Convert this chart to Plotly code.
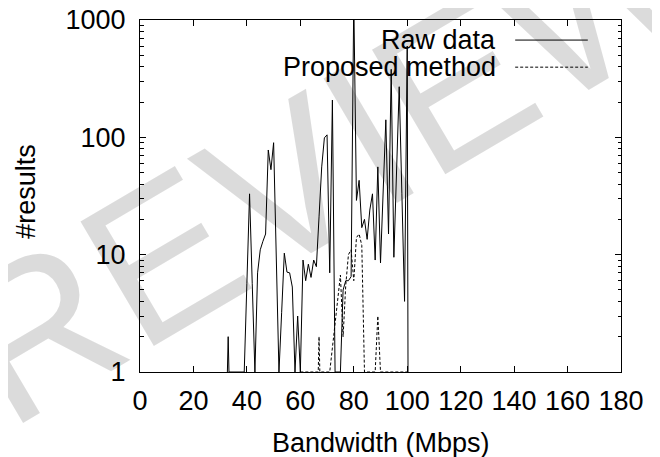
import plotly.graph_objects as go

# ---------------- data ----------------
raw_bw = [32.7, 33, 33.3, 39, 40, 41, 42, 43, 44, 45, 46, 47, 48, 49, 50, 51, 52, 53, 54,
          55, 56, 57, 58, 59, 60, 61, 62, 63, 64, 65, 66, 67, 68, 69, 70, 71, 72, 73, 74,
          75, 76, 77, 78, 79, 80, 81, 82, 83, 84, 85, 86, 87, 88, 89, 90, 91, 92, 93, 94,
          95, 96, 97, 98, 99, 100, 100.3]
raw_count = [1, 2, 1, 1, 5.7, 33, 5.7, 1, 7, 11, 13, 15, 78, 53, 90, 9.5, 1, 3.2, 10.3,
             7.1, 7, 5.3, 1, 3, 1, 9, 6, 8.3, 6.4, 9, 7.9, 21, 56, 99, 105, 7, 208, 1, 1,
             1, 5, 6, 6, 6.5, 1500, 29, 43, 17, 20, 13.5, 24, 33, 9, 56, 8.5, 35, 141, 15, 380,
             9.5, 50, 270, 33, 4, 600, 1]

prop_bw = [60, 66.7, 67, 67.3, 71, 72, 73, 74, 75, 76, 77, 78, 79, 80, 81, 82, 83, 84,
           88, 89, 90, 100]
prop_count = [1, 1, 2, 1, 1, 1.6, 2.6, 4.3, 6.7, 2, 5.5, 10, 11, 6, 14, 15, 12, 1,
              1, 3, 1, 1]

x_ticks = [0, 20, 40, 60, 80, 100, 120, 140, 160, 180]
y_ticks = [1, 10, 100, 1000]
y_tick_text = ["1", "10", "100", "1000"]
y_minor = [m * d for d in (1, 10, 100) for m in range(2, 10)]

series_names = ["Raw data", "Proposed method"]

FONT = "Liberation Sans, Arial, Helvetica, sans-serif"

fig = go.Figure()
fig.add_trace(go.Scatter(x=raw_bw, y=raw_count, mode="lines", name=series_names[0],
                         line=dict(color="black", width=1)))
fig.add_trace(go.Scatter(x=prop_bw, y=prop_count, mode="lines", name=series_names[1],
                         line=dict(color="black", width=1, dash="3px,2px")))

axis_common = dict(showline=True, linecolor="black", linewidth=1, mirror="ticks",
                   ticks="inside", ticklen=6, tickcolor="black", tickwidth=1,
                   showgrid=False, zeroline=False, automargin=False,
                   ticklabeloverflow="allow",
                   tickfont=dict(family=FONT, size=27, color="black"))

fig.update_xaxes(range=[0, 180], tickmode="array", tickvals=x_ticks,
                 ticklabelstandoff=5, **axis_common)
fig.update_yaxes(type="log", range=[0, 3], tickmode="array", tickvals=y_ticks,
                 ticktext=y_tick_text, ticklabelstandoff=8,
                 minor=dict(tickmode="array", tickvals=y_minor, ticks="inside",
                            ticklen=3.5, tickcolor="black", tickwidth=1, showgrid=False),
                 **axis_common)

annotations = [
    # watermark
    dict(text="REVIEW", x=0.39, y=0.605, xref="paper", yref="paper", showarrow=False,
         xanchor="center", yanchor="middle", textangle=-30.5,
         font=dict(family=FONT, size=210, color="rgba(0,0,0,0.14)")),
    # axis titles
    dict(text="Bandwidth (Mbps)", x=0.5, y=-0.2017, xref="paper", yref="paper",
         showarrow=False, xanchor="center", yanchor="middle",
         font=dict(family=FONT, size=27, color="black")),
    dict(text="#results", x=-0.237, y=0.512, xref="paper", yref="paper",
         showarrow=False, xanchor="center", yanchor="middle", textangle=-90,
         font=dict(family=FONT, size=27, color="black")),
    # legend texts
    dict(text=series_names[0], x=0.745, y=0.943, xref="paper", yref="paper",
         showarrow=False, xanchor="right", yanchor="middle",
         font=dict(family=FONT, size=27, color="black")),
    dict(text=series_names[1], x=0.745, y=0.866, xref="paper", yref="paper",
         showarrow=False, xanchor="right", yanchor="middle",
         font=dict(family=FONT, size=27, color="black")),
]

shapes = [
    dict(type="line", xref="paper", yref="paper", x0=0.780, x1=0.931, y0=0.943, y1=0.943,
         line=dict(color="black", width=1)),
    dict(type="line", xref="paper", yref="paper", x0=0.780, x1=0.931, y0=0.866, y1=0.866,
         line=dict(color="black", width=1, dash="3px,2px")),
]

# the page body has an 8px default margin, so the figure is shrunk by that amount
fig.update_layout(width=652, height=449,
                  margin=dict(l=132, r=39, t=12, b=85, autoexpand=False),
                  plot_bgcolor="white", paper_bgcolor="white", showlegend=False,
                  font=dict(family=FONT, size=27, color="black"),
                  annotations=annotations, shapes=shapes)

fig.write_html("out.html")
